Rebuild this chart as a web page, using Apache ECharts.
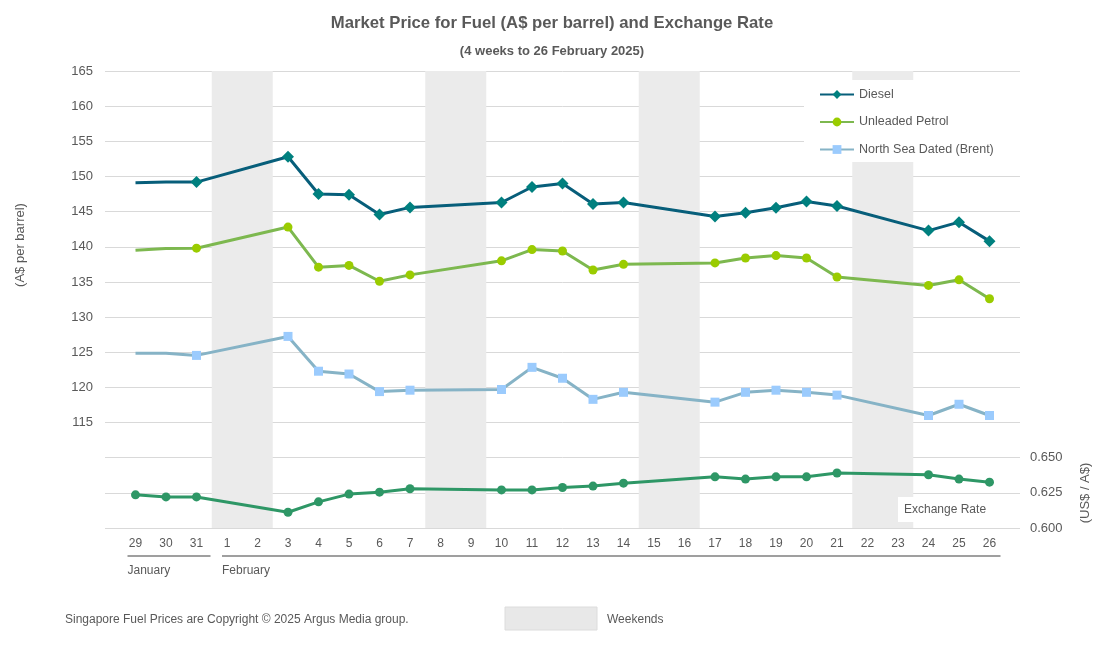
<!DOCTYPE html>
<html>
<head>
<meta charset="utf-8">
<script src="https://cdn.jsdelivr.net/npm/echarts@6/dist/echarts.min.js"></script>
<style>
html,body{margin:0;padding:0;background:#fff;}
#chart{width:1104px;height:647px;}
</style>
</head>
<body>
<div id="chart"></div>
<script>
// ---- Data ----
const days = ['29','30','31','1','2','3','4','5','6','7','8','9','10','11','12','13','14','15','16','17','18','19','20','21','22','23','24','25','26'];
const months = [{name:'January', from:'29', to:'31'}, {name:'February', from:'1', to:'26'}];
const weekends = [['1','2'],['8','9'],['15','16'],['22','23']];
const noMarkerDays = ['29','30'];

const diesel = [149.1,149.2,149.2,null,null,152.8,147.5,147.4,144.6,145.6,null,null,146.3,148.5,149.0,146.1,146.3,null,null,144.3,144.85,145.55,146.45,145.8,null,null,142.3,143.5,140.8];
const petrol = [139.5,139.75,139.8,null,null,142.8,137.1,137.35,135.1,136.0,null,null,138.0,139.6,139.4,136.7,137.5,null,null,137.7,138.4,138.75,138.4,135.7,null,null,134.5,135.3,132.6];
const brent  = [124.85,124.85,124.55,null,null,127.25,122.3,121.9,119.4,119.6,null,null,119.7,122.85,121.3,118.3,119.3,null,null,117.9,119.3,119.6,119.3,118.9,null,null,116.0,117.6,116.0];
const exRate = [0.6236,0.6221,0.6221,null,null,0.6112,0.6186,0.6241,0.6255,0.6279,null,null,0.6271,0.6271,0.6288,0.6298,0.6319,null,null,0.6364,0.6348,0.6364,0.6364,0.6391,null,null,0.6379,0.6348,0.6326];

const leftTicks = {min:100, max:165, interval:5, firstLabel:115};
const rightTicks = {min:0.600, max:0.925, interval:0.025, lastLabel:0.650};

const FONT = "'Liberation Sans', Arial, sans-serif";
const GREY = '#595959';

function toPoints(arr, hideFirst){
  return arr.map((v,i)=>{
    if (v === null) return [i, null];
    if (hideFirst && noMarkerDays.includes(days[i])) return {value:[i,v], symbolSize:0};
    return [i, v];
  });
}

const chart = echarts.init(document.getElementById('chart'), null, {renderer:'canvas'});

const option = {
  animation:false,
  backgroundColor:'#fff',
  textStyle:{fontFamily:FONT},
  title:[
    {text:'Market Price for Fuel (A$ per barrel) and Exchange Rate', left:'center', top:10,
     textStyle:{fontFamily:FONT, fontSize:16.7, fontWeight:'bold', color:GREY}},
    {text:'(4 weeks to 26 February 2025)', left:'center', top:40,
     textStyle:{fontFamily:FONT, fontSize:13, fontWeight:'bold', color:GREY}}
  ],
  grid:{left:105, right:84, top:71, bottom:119, containLabel:false},
  legend:{
    data:['Diesel','Unleaded Petrol','North Sea Dated (Brent)'],
    orient:'vertical', left:804, top:80,
    backgroundColor:'#fff',
    padding:[8,28,6,15],
    itemWidth:34, itemHeight:11, itemGap:14.5,
    textStyle:{fontFamily:FONT, fontSize:12.5, color:GREY},
    z:10
  },
  xAxis:{
    type:'value', min:-1, max:29, interval:1,
    axisLine:{show:false}, axisTick:{show:false}, splitLine:{show:false},
    axisLabel:{
      margin:10, color:GREY, fontFamily:FONT, fontSize:12,
      formatter:(v)=> (v>=0 && v<days.length) ? days[v] : ''
    }
  },
  yAxis:[
    {type:'value', min:leftTicks.min, max:leftTicks.max, interval:leftTicks.interval,
     axisLine:{show:false}, axisTick:{show:false},
     splitLine:{lineStyle:{color:'#d9d9d9', width:1}},
     axisLabel:{margin:12, color:GREY, fontFamily:FONT, fontSize:13,
       formatter:(v)=> v>=leftTicks.firstLabel ? String(v) : ''}},
    {type:'value', min:rightTicks.min, max:rightTicks.max, interval:rightTicks.interval, position:'right',
     axisLine:{show:false}, axisTick:{show:false}, splitLine:{show:false},
     axisLabel:{margin:10, color:GREY, fontFamily:FONT, fontSize:13,
       formatter:(v)=> v<=rightTicks.lastLabel+1e-9 ? v.toFixed(3) : ''}}
  ],
  series:[
    {name:'weekends', type:'line', data:[], z:1, silent:true,
     markArea:{silent:true, itemStyle:{color:'#ebebeb'},
       data: weekends.map(w=>[{xAxis:days.indexOf(w[0])-0.5},{xAxis:days.indexOf(w[1])+0.5}])}},
    {name:'Diesel', type:'line', data:toPoints(diesel,true), connectNulls:true, z:5,
     symbol:'diamond', symbolSize:12,
     lineStyle:{color:'#075e7a', width:3}, itemStyle:{color:'#00807f'}},
    {name:'Unleaded Petrol', type:'line', data:toPoints(petrol,true), connectNulls:true, z:4,
     symbol:'circle', symbolSize:9,
     lineStyle:{color:'#7db84f', width:3}, itemStyle:{color:'#9acc00'}},
    {name:'North Sea Dated (Brent)', type:'line', data:toPoints(brent,true), connectNulls:true, z:4,
     symbol:'rect', symbolSize:9,
     lineStyle:{color:'#86b3c6', width:3}, itemStyle:{color:'#9bcbfd'}},
    {name:'Exchange Rate', type:'line', yAxisIndex:1, data:toPoints(exRate,false), connectNulls:true, z:4,
     symbol:'circle', symbolSize:9,
     lineStyle:{color:'#2e9766', width:3}, itemStyle:{color:'#2e9766'}}
  ]
};
chart.setOption(option);

// month separators and labels, positioned via the axis scale
const px = (i)=> chart.convertToPixel({xAxisIndex:0, yAxisIndex:0}, [i, leftTicks.min]);
const graphics = [];
const lineY = 556;
const monthPad = [[-8, 14], [-5, 11]];
months.forEach((m, k)=>{
  const a = px(days.indexOf(m.from))[0];
  const b = px(days.indexOf(m.to))[0];
  const x1 = a + monthPad[k][0], x2 = b + monthPad[k][1];
  graphics.push({type:'line', shape:{x1:x1, y1:lineY, x2:x2, y2:lineY}, style:{stroke:'#7f7f7f', lineWidth:1.5}, silent:true});
  graphics.push({type:'text', x:x1, y:571, style:{text:m.name, fill:GREY, font:'12px '+FONT, textVerticalAlign:'middle'}, silent:true});
});
// Exchange Rate label
graphics.push({type:'rect', shape:{x:898, y:497, width:105, height:25}, style:{fill:'#fff'}, z:20, silent:true});
graphics.push({type:'text', x:904, y:510, style:{text:'Exchange Rate', fill:GREY, font:'12px '+FONT, textVerticalAlign:'middle'}, z:21, silent:true});
// axis names
graphics.push({type:'text', x:20, y:245, rotation:Math.PI/2, style:{text:'(A$ per barrel)', fill:GREY, font:'13px '+FONT, textAlign:'center', textVerticalAlign:'middle'}, silent:true});
graphics.push({type:'text', x:1085, y:493, rotation:Math.PI/2, style:{text:'(US$ / A$)', fill:GREY, font:'13px '+FONT, textAlign:'center', textVerticalAlign:'middle'}, silent:true});
// footnote and weekend key
graphics.push({type:'text', x:65, y:620, style:{text:'Singapore Fuel Prices are Copyright \u00A9 2025 Argus Media group.', fill:GREY, font:'12px '+FONT, textVerticalAlign:'middle'}, silent:true});
graphics.push({type:'rect', shape:{x:505, y:607, width:92, height:23}, style:{fill:'#e8e8e8', stroke:'#dcdcdc', lineWidth:1}, silent:true});
graphics.push({type:'text', x:607, y:620, style:{text:'Weekends', fill:GREY, font:'12px '+FONT, textVerticalAlign:'middle'}, silent:true});

chart.setOption({graphic:{elements:graphics}});
</script>
</body>
</html>
